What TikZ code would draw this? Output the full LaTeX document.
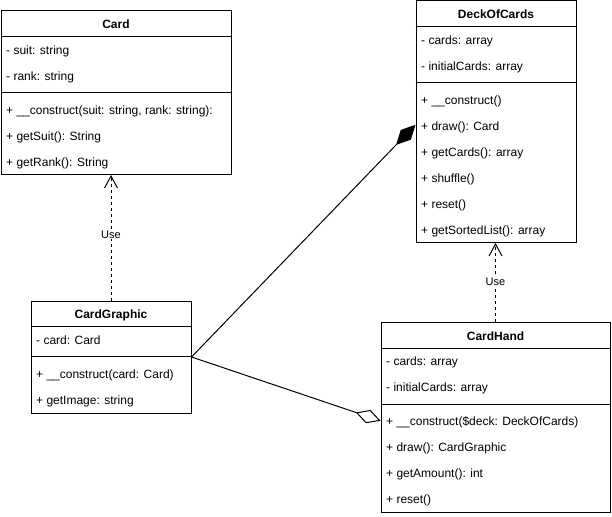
\documentclass[tikz,border=0pt]{standalone}
\usepackage{fontspec}
\setmainfont{Liberation Sans}
\usetikzlibrary{arrows.meta,calc}
\begin{document}
\begin{tikzpicture}[x=1pt,y=-1pt,
  cls/.style={draw,line width=1pt,anchor=north west,inner sep=0pt,minimum width=#1},
  hdr/.style={anchor=base,inner sep=0pt,font=\fontsize{12}{14}\selectfont\bfseries},
  rowtxt/.style={anchor=mid west,inner sep=0pt,font=\fontsize{12}{14}\selectfont},
  sepline/.style={line width=1pt},
  dep/.style={line width=1pt,dash pattern=on 3pt off 3pt,-{Straight Barb[length=12pt,width=13pt,line width=1pt]}},
  lbl/.style={fill=white,inner sep=1pt,font=\fontsize{11}{13}\selectfont},
  compo/.style={line width=1pt,-{Diamond[length=28pt,width=14pt,fill=black]}},
  aggr/.style={line width=1pt,-{Diamond[open,length=26pt,width=14pt,fill=white]}}
]
\useasboundingbox (0,0) rectangle (612,516);

% ---------- Card ----------
\node[cls=230pt,minimum height=163.5pt] (card) at (0.5,10.5) {};
\node[hdr] (cardT) at ($(card.north)+(0,18)$) {Card};
\draw[sepline] ($(card.north west)+(0,26)$) -- ($(card.north east)+(0,26)$);
\node[rowtxt] (cardA1) at ($(card.north west)+(5.5,41.5)$) {- suit: string};
\node[rowtxt] (cardA2) at ($(card.north west)+(5.5,67.5)$) {- rank: string};
\draw[sepline] ($(card.north west)+(0,82)$) -- ($(card.north east)+(0,82)$);
\node[rowtxt] (cardM1) at ($(card.north west)+(5.5,101)$) {+ \_\_construct(suit: string, rank: string):};
\node[rowtxt] (cardM2) at ($(card.north west)+(5.5,127)$) {+ getSuit(): String};
\node[rowtxt] (cardM3) at ($(card.north west)+(5.5,153)$) {+ getRank(): String};

% ---------- DeckOfCards ----------
\node[cls=160pt,minimum height=241.5pt] (deck) at (415.5,0.5) {};
\node[hdr] (deckT) at ($(deck.north)+(0,18)$) {DeckOfCards};
\draw[sepline] ($(deck.north west)+(0,26)$) -- ($(deck.north east)+(0,26)$);
\node[rowtxt] (deckA1) at ($(deck.north west)+(5.5,41.5)$) {- cards: array};
\node[rowtxt] (deckA2) at ($(deck.north west)+(5.5,67.5)$) {- initialCards: array};
\draw[sepline] ($(deck.north west)+(0,82)$) -- ($(deck.north east)+(0,82)$);
\node[rowtxt] (deckM1) at ($(deck.north west)+(5.5,101.5)$) {+ \_\_construct()};
\node[rowtxt] (deckM2) at ($(deck.north west)+(5.5,127.5)$) {+ draw(): Card};
\node[rowtxt] (deckM3) at ($(deck.north west)+(5.5,153.5)$) {+ getCards(): array};
\node[rowtxt] (deckM4) at ($(deck.north west)+(5.5,179.5)$) {+ shuffle()};
\node[rowtxt] (deckM5) at ($(deck.north west)+(5.5,205)$) {+ reset()};
\node[rowtxt] (deckM6) at ($(deck.north west)+(5.5,231)$) {+ getSortedList(): array};

% ---------- CardGraphic ----------
\node[cls=160pt,minimum height=112pt] (cg) at (30.5,300.5) {};
\node[hdr] (cgT) at ($(cg.north)+(0,18)$) {CardGraphic};
\draw[sepline] ($(cg.north west)+(0,26)$) -- ($(cg.north east)+(0,26)$);
\node[rowtxt] (cgA1) at ($(cg.north west)+(5.5,41)$) {- card: Card};
\draw[sepline] ($(cg.north west)+(0,56)$) -- ($(cg.north east)+(0,56)$);
\node[rowtxt] (cgM1) at ($(cg.north west)+(5.5,75)$) {+ \_\_construct(card: Card)};
\node[rowtxt] (cgM2) at ($(cg.north west)+(5.5,101)$) {+ getImage: string};

% ---------- CardHand ----------
\node[cls=229pt,minimum height=190.5pt] (ch) at (380.5,321.5) {};
\node[hdr] (chT) at ($(ch.north)+(0,18.5)$) {CardHand};
\draw[sepline] ($(ch.north west)+(0,26.5)$) -- ($(ch.north east)+(0,26.5)$);
\node[rowtxt] (chA1) at ($(ch.north west)+(5.5,41.5)$) {- cards: array};
\node[rowtxt] (chA2) at ($(ch.north west)+(5.5,67.5)$) {- initialCards: array};
\draw[sepline] ($(ch.north west)+(0,82.5)$) -- ($(ch.north east)+(0,82.5)$);
\node[rowtxt] (chM1) at ($(ch.north west)+(5.5,101.5)$) {+ \_\_construct(\$deck: DeckOfCards)};
\node[rowtxt] (chM2) at ($(ch.north west)+(5.5,127.5)$) {+ draw(): CardGraphic};
\node[rowtxt] (chM3) at ($(ch.north west)+(5.5,153.5)$) {+ getAmount(): int};
\node[rowtxt] (chM4) at ($(ch.north west)+(5.5,179.5)$) {+ reset()};

% ---------- connectors ----------
\draw[dep] (cg.north) -- node[lbl,pos=0.526] (use1) {Use} (cg.north |- card.south);
\draw[dep] (ch.north) -- node[lbl,pos=0.5] (use2) {Use} (ch.north |- deck.south);
\coordinate (deckTip) at ($(deck.west)+(0,3)$);
\coordinate (handTip) at ($(ch.west)+(0,3.5)$);
\draw[compo] (cg.east) -- (deckTip);
\draw[aggr] (cg.east) -- (handTip);
\end{tikzpicture}
\end{document}
